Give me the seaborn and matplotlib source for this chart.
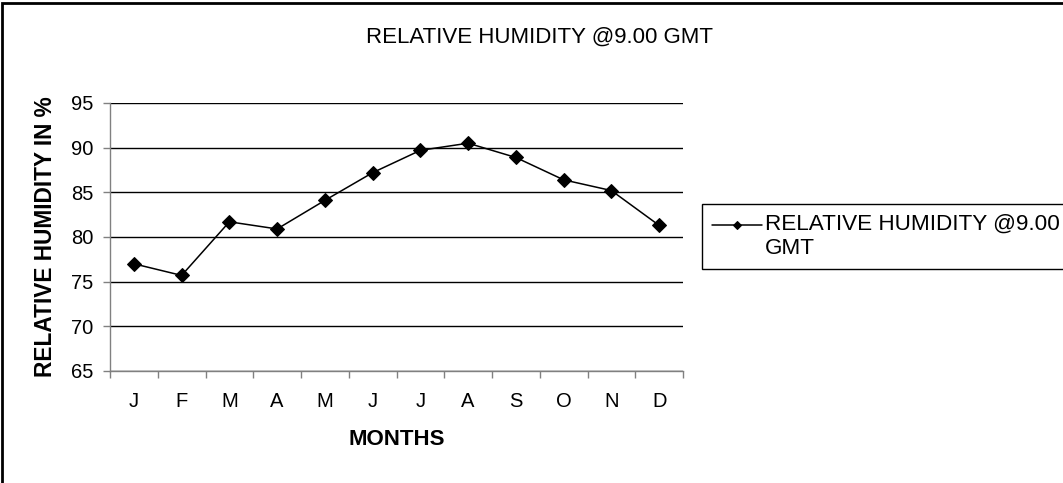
import matplotlib
matplotlib.use('Agg')
import matplotlib.pyplot as plt
from matplotlib.patches import Rectangle
from matplotlib.ticker import FixedLocator
import numpy as np
import pandas as pd
import seaborn as sns

# ── Data ───────────────────────────────────────────────────────────────────
MONTHS   = ['J', 'F', 'M', 'A', 'M', 'J', 'J', 'A', 'S', 'O', 'N', 'D']
HUMIDITY = [77.0, 75.7, 81.7, 80.9, 84.1, 87.2, 89.7, 90.5, 88.9, 86.4, 85.2, 81.3]
Y_TICKS  = [65, 70, 75, 80, 85, 90, 95]
SERIES   = 'RELATIVE HUMIDITY @9.00 GMT'

df = pd.DataFrame({'idx': np.arange(len(MONTHS)), 'rh': HUMIDITY})

# ── Style ──────────────────────────────────────────────────────────────────
sns.set_style('white')
plt.rcParams['font.family'] = ['Liberation Sans', 'DejaVu Sans']
plt.rcParams['text.color'] = 'black'
plt.rcParams['axes.labelcolor'] = 'black'

fig = plt.figure(figsize=(10.63, 4.83), dpi=100)
ax = fig.add_axes([110 / 1063, 1 - 371 / 483, 573 / 1063, 268 / 483])

sns.lineplot(data=df, x='idx', y='rh', ax=ax, color='black', lw=1.1,
             marker='D', markersize=7, markeredgecolor='black',
             label=SERIES, legend=False)

# axes
ax.set_xlim(-0.5, len(MONTHS) - 0.5)
ax.set_ylim(min(Y_TICKS), max(Y_TICKS))
ax.set_yticks(Y_TICKS)
ax.yaxis.grid(True, color='black', lw=1.0)
ax.xaxis.grid(False)

ax.set_xticks(np.arange(len(MONTHS)))
ax.set_xticklabels(MONTHS)
ax.xaxis.set_minor_locator(FixedLocator(np.arange(-0.5, len(MONTHS), 1.0)))
ax.tick_params(axis='x', which='major', length=0, pad=15, labelsize=14.5,
               labelcolor='black')
ax.tick_params(axis='x', which='minor', length=5, width=1, color='#808080',
               direction='out', bottom=True)
ax.tick_params(axis='y', length=5, width=1, color='#808080', direction='out',
               left=True, pad=7, labelsize=14.5, labelcolor='black')

for side in ['top', 'right']:
    ax.spines[side].set_visible(False)
for side in ['left', 'bottom']:
    ax.spines[side].set_color('#808080')
    ax.spines[side].set_linewidth(1.0)

ax.set_xlabel('MONTHS', fontsize=16, fontweight='bold', labelpad=13)
ax.set_ylabel('RELATIVE HUMIDITY IN %', fontsize=16.3, fontweight='bold', labelpad=10)

fig.text(540 / 1063, 1 - 43 / 483, SERIES, ha='center', va='baseline', fontsize=16)

# legend
handles, _ = ax.get_legend_handles_labels()
leg = fig.legend(handles, ['RELATIVE HUMIDITY @9.00\nGMT'],
                 loc='upper left', bbox_to_anchor=(702 / 1063, 1 - 204 / 483),
                 fontsize=16.2, frameon=True, fancybox=False, framealpha=1,
                 edgecolor='black', borderpad=0.45, handlelength=2.2,
                 handleheight=1.5, handletextpad=0.15, borderaxespad=0,
                 markerscale=0.6)
leg.get_frame().set_linewidth(1.0)
# put the marker beside the first line of the wrapped label
for col in leg._legend_handle_box.get_children():
    for item in col.get_children():
        item.align = 'top'

# outer border
fig.patches.append(Rectangle((2 / 1063, -0.01), 1.2, 1.01 - 3 / 483,
                             transform=fig.transFigure, fill=False,
                             edgecolor='black', lw=2, zorder=10))

fig.savefig('out.png', dpi=100)
